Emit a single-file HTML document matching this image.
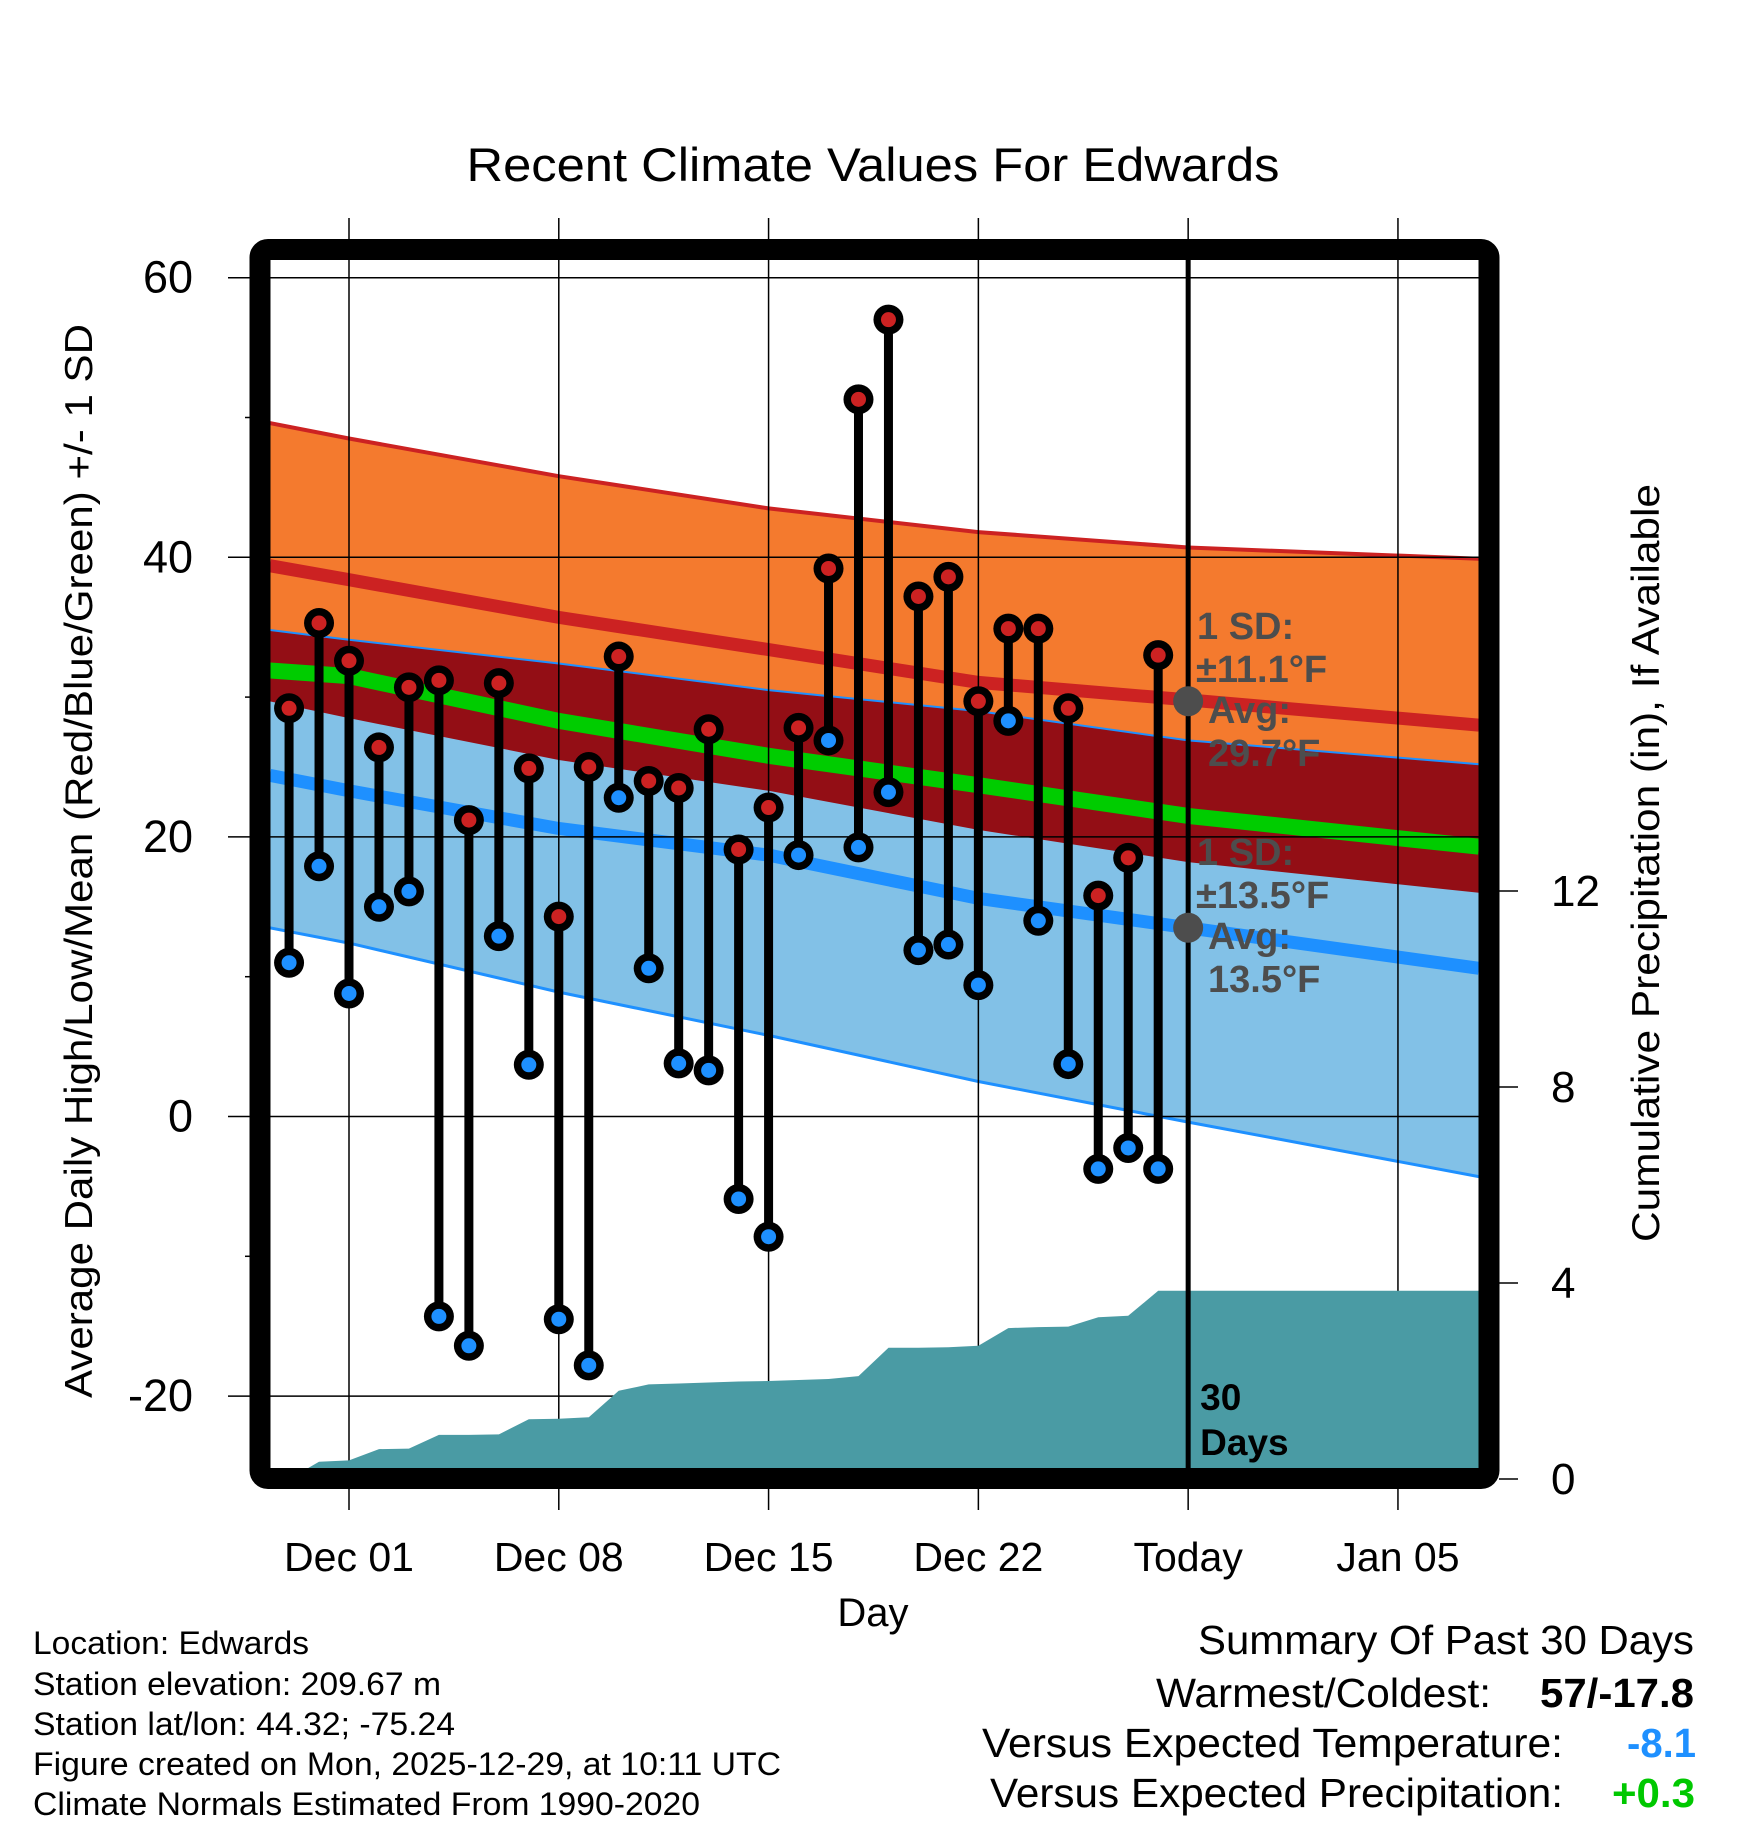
<!DOCTYPE html>
<html><head><meta charset="utf-8"><style>
html,body{margin:0;padding:0;background:#fff;}
svg{display:block;font-family:"Liberation Sans",Arial,sans-serif;}
</style></head><body>
<svg id="chart" width="1748" height="1828" viewBox="0 0 1748 1828" xmlns="http://www.w3.org/2000/svg">
<defs><clipPath id="plotclip"><rect x="270" y="260" width="1209" height="1208"/></clipPath></defs>
<g id="bands" clip-path="url(#plotclip)"></g>
<g id="grid"></g>
<g id="precip" clip-path="url(#plotclip)"></g>
<g id="points"></g>
<g id="annot"></g>
<rect x="260" y="249.5" width="1229" height="1229" rx="8" fill="none" stroke="#000" stroke-width="21"/>
<text x="873" y="181" font-size="47" text-anchor="middle" textLength="813" lengthAdjust="spacingAndGlyphs">Recent Climate Values For Edwards</text>
<text transform="translate(92,861) rotate(-90)" font-size="39" text-anchor="middle" textLength="1074" lengthAdjust="spacingAndGlyphs">Average Daily High/Low/Mean (Red/Blue/Green) +/- 1 SD</text>
<text transform="translate(1659,863) rotate(-90)" font-size="39" text-anchor="middle" textLength="758" lengthAdjust="spacingAndGlyphs">Cumulative Precipitation (in), If Available</text>
<text x="873" y="1626" font-size="40" text-anchor="middle">Day</text>
<g font-size="32">
<text x="33" y="1654" textLength="276" lengthAdjust="spacingAndGlyphs">Location: Edwards</text>
<text x="33" y="1695" textLength="408" lengthAdjust="spacingAndGlyphs">Station elevation: 209.67 m</text>
<text x="33" y="1735" textLength="422" lengthAdjust="spacingAndGlyphs">Station lat/lon: 44.32; -75.24</text>
<text x="33" y="1775" textLength="748" lengthAdjust="spacingAndGlyphs">Figure created on Mon, 2025-12-29, at 10:11 UTC</text>
<text x="33" y="1815" textLength="667" lengthAdjust="spacingAndGlyphs">Climate Normals Estimated From 1990-2020</text>
</g>
<g font-size="41">
<text x="1198" y="1654" textLength="496" lengthAdjust="spacingAndGlyphs">Summary Of Past 30 Days</text>
<text x="1156" y="1707" textLength="335" lengthAdjust="spacingAndGlyphs">Warmest/Coldest:</text>
<text x="1540" y="1707" font-weight="bold" textLength="154" lengthAdjust="spacingAndGlyphs">57/-17.8</text>
<text x="982" y="1757" textLength="581" lengthAdjust="spacingAndGlyphs">Versus Expected Temperature:</text>
<text x="1627" y="1757" font-weight="bold" fill="#1e90ff" textLength="69" lengthAdjust="spacingAndGlyphs">-8.1</text>
<text x="990" y="1807" textLength="573" lengthAdjust="spacingAndGlyphs">Versus Expected Precipitation:</text>
<text x="1612" y="1807" font-weight="bold" fill="#00c800" textLength="83" lengthAdjust="spacingAndGlyphs">+0.3</text>
</g>
</svg>
<script>
// Normals sampled at day offsets from Dec 01
const normDays = [-2.64, 0, 7, 14, 21, 28, 37.7];
const highUpper = [49.6, 48.5, 45.8, 43.5, 41.8, 40.7, 39.9];
const highMean  = [39.4, 38.4, 35.7, 33.4, 31.05, 29.8, 28.0];
const highLower = [29.7, 28.5, 25.5, 23.3, 20.5, 18.2, 16.0];
const lowUpper  = [34.8, 34.1, 32.4, 30.5, 29.0, 26.9, 25.2];
const lowMean   = [24.4, 23.3, 20.6, 18.7, 15.6, 13.5, 10.6];
const lowLower  = [13.5, 12.4, 8.9, 5.8, 2.5, -0.4, -4.3];
const avgMean   = [31.9, 31.5, 28.3, 25.8, 23.7, 21.5, 19.3];
// Daily observations, Nov 29 .. Dec 28 (day offset -2 .. 27)
const obsStartDay = -2;
const highs = [29.2,35.3,32.6,26.4,30.7,31.2,21.2,31,24.9,14.3,25,32.9,24,23.5,27.7,19.1,22.1,27.8,39.2,51.3,57,37.2,38.6,29.7,34.9,34.9,29.2,15.8,18.5,33];
const lows  = [11,17.9,8.8,15,16.1,-14.3,-16.4,12.9,3.7,-14.5,-17.8,22.8,10.6,3.8,3.3,-5.9,-8.6,18.7,26.9,19.25,23.2,11.9,12.3,9.4,28.3,14,3.75,-3.75,-2.25,-3.75];
const precipCum = [0,0.35,0.38,0.61,0.62,0.9,0.9,0.91,1.22,1.23,1.26,1.8,1.93,1.95,1.97,1.99,2.0,2.02,2.04,2.1,2.68,2.68,2.69,2.72,3.08,3.1,3.11,3.3,3.33,3.84];
const yTicks = [-20, 0, 20, 40, 60];
const yMinor = [-10, 10, 30, 50];
const xTickDays = [0, 7, 14, 21, 28, 35];
const xTickLabels = ["Dec 01", "Dec 08", "Dec 15", "Dec 22", "Today", "Jan 05"];
const pTicks = [0, 4, 8, 12];
const todayDay = 28;
const annHigh = ["1 SD:", "±11.1°F", "Avg:", "29.7°F"];
const annLow = ["1 SD:", "±13.5°F", "Avg:", "13.5°F"];
const annHighAvg = 29.7, annLowAvg = 13.5;

const NS = "http://www.w3.org/2000/svg";
const X = d => 349 + d * 29.97;
const Y = t => 1116.5 - t * 13.98;
const P = p => 1479 - p * 49;
function mk(tag, attrs, parent) {
  const e = document.createElementNS(NS, tag);
  for (const k in attrs) e.setAttribute(k, attrs[k]);
  parent.appendChild(e);
  return e;
}
function pts(vals) { return normDays.map((d, i) => X(d).toFixed(1) + "," + Y(vals[i]).toFixed(1)); }
function band(up, lo) { return pts(up).concat(pts(lo).reverse()).join(" "); }

const bands = document.getElementById("bands");
let e;
e = mk("polygon", {points: band(highUpper, highLower), fill: "#f47a2e"}, bands);


e = mk("polygon", {points: band(lowUpper, lowLower), fill: "#82c1e7"}, bands);


e = mk("polygon", {points: band(lowUpper, highLower), fill: "#930e15"}, bands);


const lines = [
  [highUpper, "#cc2222", 4, "high-upper-line"],
  [lowUpper, "#1e90ff", 2, "low-upper-line"],
  [lowLower, "#1e90ff", 3, "low-lower-line"],
  [highMean, "#cc2222", 13, "high-mean-line"],
  [lowMean, "#1e90ff", 13, "low-mean-line"],
  [avgMean, "#00cc00", 16, "avg-mean-line"]
];
lines.forEach(l => {
  const el = mk("polyline", {points: pts(l[0]).join(" "), fill: "none", stroke: l[1], "stroke-width": l[2]}, bands);
  
  
});

const grid = document.getElementById("grid");
yTicks.forEach(t => {
  const el = mk("line", {x1: 228, x2: 1479, y1: Y(t), y2: Y(t), stroke: "#000", "stroke-width": 1.5}, grid);
  
  
  const tx = mk("text", {x: 193, y: Y(t) + 15, "font-size": 45, "text-anchor": "end"}, grid);
  tx.textContent = t;
  
  
});
yMinor.forEach(t => {
  const el = mk("line", {x1: 245, x2: 260, y1: Y(t), y2: Y(t), stroke: "#000", "stroke-width": 1.5}, grid);
  
  
});
xTickDays.forEach((d, i) => {
  const el = mk("line", {x1: X(d), x2: X(d), y1: 218, y2: 1510, stroke: "#000", "stroke-width": 1.5}, grid);
  
  
  const tx = mk("text", {x: X(d), y: 1571, "font-size": 41, "text-anchor": "middle"}, grid);
  tx.textContent = xTickLabels[i];
  
  
});
pTicks.forEach(p => {
  const el = mk("line", {x1: 1499, x2: 1518, y1: P(p), y2: P(p), stroke: "#000", "stroke-width": 1.5}, grid);
  
  
  const tx = mk("text", {x: 1551, y: P(p) + 15, "font-size": 44}, grid);
  tx.textContent = p;
  
  
});

const precip = document.getElementById("precip");
let pp = precipCum.map((v, i) => X(obsStartDay + i).toFixed(1) + "," + P(v).toFixed(1));
pp.push("1490," + P(precipCum[precipCum.length - 1]).toFixed(1));
pp.push("1490,1490");
pp.push(X(obsStartDay).toFixed(1) + ",1490");
e = mk("polygon", {points: pp.join(" "), fill: "#4a9ba4"}, precip);



const ptsG = document.getElementById("points");
e = mk("line", {x1: X(todayDay), x2: X(todayDay), y1: 260, y2: 1468, stroke: "#000", "stroke-width": 5}, ptsG);


const dt = mk("text", {x: X(todayDay) + 12, "font-size": 37, "font-weight": "bold"}, ptsG);


mk("tspan", {x: X(todayDay) + 12, y: 1410}, dt).textContent = "30";
mk("tspan", {x: X(todayDay) + 12, y: 1455}, dt).textContent = "Days";

highs.forEach((h, i) => {
  const x = X(obsStartDay + i), yh = Y(h), yl = Y(lows[i]);
  const st = mk("line", {x1: x, x2: x, y1: yh, y2: yl, stroke: "#000", "stroke-width": 9}, ptsG);
  
  
  [[yl, "#1e90ff", "low-point"], [yh, "#cc2222", "high-point"]].forEach(m => {
    const o = mk("circle", {cx: x, cy: m[0], r: 15, fill: "#000"}, ptsG);
    
    
    const c = mk("circle", {cx: x, cy: m[0], r: 7.5, fill: m[1]}, ptsG);
    
    
  });
});

const annot = document.getElementById("annot");
function annBlock(lbls, avg, y0) {
  const d = mk("circle", {cx: X(todayDay), cy: Y(avg), r: 15, fill: "#4d4d4d"}, annot);
  
  
  const xs = [1197, 1196, 1208, 1208];
  lbls.forEach((s, i) => {
    const t = mk("text", {x: xs[i], y: y0 + [0, 43, 84, 127][i], "font-size": 38, "font-weight": "bold", fill: "#4d4d4d"}, annot);
    t.textContent = s;
    
    
  });
}
annBlock(annHigh, annHighAvg, 639);
annBlock(annLow, annLowAvg, 865);
</script>
</body></html>
